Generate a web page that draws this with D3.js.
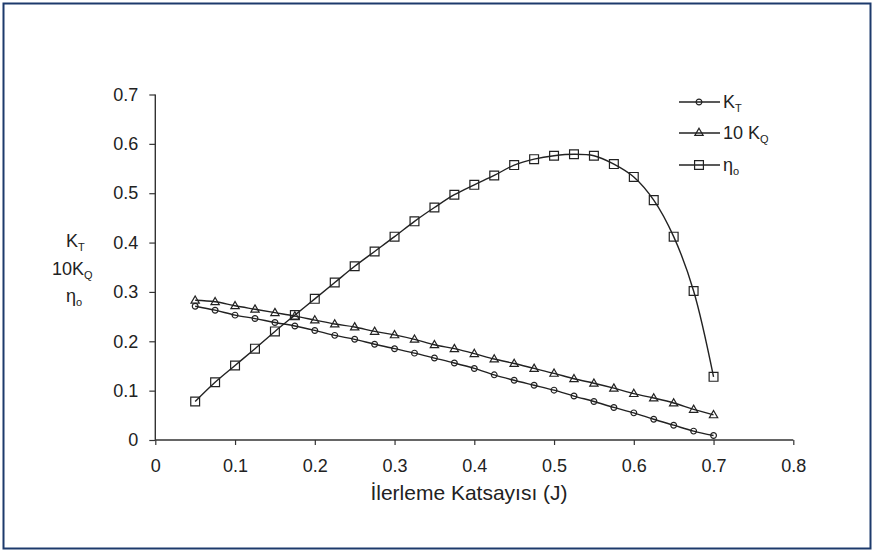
<!DOCTYPE html>
<html>
<head>
<meta charset="utf-8">
<script src="https://cdn.jsdelivr.net/npm/d3@7/dist/d3.min.js"></script>
<style>
  html, body { margin: 0; padding: 0; background: #fff; }
  svg { display: block; }
  text { font-family: "Liberation Sans", Arial, sans-serif; fill: #222; }
</style>
</head>
<body>
<svg id="chart" width="874" height="552"></svg>
<script>
// ---- data ----
const J = [0.05, 0.075, 0.1, 0.125, 0.15, 0.175, 0.2, 0.225, 0.25, 0.275, 0.3, 0.325, 0.35,
           0.375, 0.4, 0.425, 0.45, 0.475, 0.5, 0.525, 0.55, 0.575, 0.6, 0.625, 0.65, 0.675, 0.7];
const KT = [0.271, 0.263, 0.253, 0.246, 0.238, 0.231, 0.222, 0.212, 0.204, 0.194, 0.185, 0.176, 0.166,
            0.156, 0.145, 0.132, 0.121, 0.111, 0.101, 0.089, 0.078, 0.066, 0.055, 0.042, 0.030, 0.018, 0.009];
const KQ10 = [0.283, 0.280, 0.272, 0.265, 0.258, 0.251, 0.243, 0.235, 0.229, 0.220, 0.213, 0.204, 0.193,
              0.185, 0.175, 0.164, 0.155, 0.145, 0.135, 0.124, 0.115, 0.105, 0.094, 0.085, 0.075, 0.062, 0.051];
const ETA0 = [0.078, 0.117, 0.151, 0.185, 0.220, 0.253, 0.286, 0.319, 0.352, 0.382, 0.412, 0.443, 0.471,
              0.497, 0.517, 0.536, 0.557, 0.569, 0.576, 0.579, 0.576, 0.559, 0.533, 0.486, 0.412, 0.302, 0.128];
const xTicks = [0, 0.1, 0.2, 0.3, 0.4, 0.5, 0.6, 0.7, 0.8];
const yTicks = [0, 0.1, 0.2, 0.3, 0.4, 0.5, 0.6, 0.7];
const xTitle = "İlerleme Katsayısı (J)";

const svg = d3.select("#chart");
const FONT = '"Liberation Sans", Arial, sans-serif';

// frame
svg.append("rect").attr("x", 3.5).attr("y", 3.5).attr("width", 867).attr("height", 545)
  .attr("fill", "#fff").attr("stroke", "#1d3a6c").attr("stroke-width", 2);

const x = d3.scaleLinear().domain([0, 0.8]).range([155.3, 793.3]);
const y = d3.scaleLinear().domain([0, 0.7]).range([440, 94.5]);

// axes
const fmt = d => d === 0 ? "0" : d3.format(".1f")(d);
const xAxis = svg.append("g").attr("transform", `translate(0,${y(0)})`)
  .call(d3.axisBottom(x).tickValues(xTicks).tickFormat(fmt).tickSize(5).tickPadding(14));
const yAxis = svg.append("g").attr("transform", `translate(${x(0)},0)`)
  .call(d3.axisLeft(y).tickValues(yTicks).tickFormat(fmt).tickSize(6).tickPadding(11));
[xAxis, yAxis].forEach(g => {
  g.select(".domain").attr("stroke", "#333").attr("stroke-width", 1.4);
  g.selectAll(".tick line").attr("stroke", "#333").attr("stroke-width", 1.2);
  g.selectAll(".tick text").attr("font-size", 18).attr("fill", "#222").attr("font-family", FONT);
});
xAxis.select(".domain").attr("d", `M${x(0)},0H${x(0.8)}`);
yAxis.select(".domain").attr("d", `M0,${y(0)}V${y(0.7)}`);

// x title
svg.append("text").attr("x", 469).attr("y", 500).attr("text-anchor", "middle")
  .attr("font-size", 21).text(xTitle);

// y title (three stacked labels with subscripts)
function subLabel(parent, px, py, main, sub, fs) {
  fs = fs || 18;
  const t = parent.append("text").attr("x", px).attr("y", py).attr("font-size", fs);
  t.append("tspan").text(main);
  t.append("tspan").attr("dy", 4).attr("font-size", Math.round(fs * 0.62)).text(sub);
  return t;
}
subLabel(svg, 66, 247, "K", "T");
subLabel(svg, 52, 275, "10K", "Q");
subLabel(svg, 66, 302, "η", "o");

// lines
const ser = [
  {name: "KT", vals: KT, marker: "circle"},
  {name: "KQ", vals: KQ10, marker: "triangle"},
  {name: "eta", vals: ETA0, marker: "square"}
];
const line = d3.line().x(d => x(d[0])).y(d => y(d[1])).curve(d3.curveCatmullRom.alpha(0.5));

const symCircle = d3.symbol().type(d3.symbolCircle).size(26);
const symTri = d3.symbol().type(d3.symbolTriangle).size(30);
const symSq = d3.symbol().type(d3.symbolSquare).size(78);
const symFor = m => m === "circle" ? symCircle() : m === "triangle" ? symTri() : symSq();

ser.forEach(s => {
  const pts = J.map((j, i) => [j, s.vals[i]]);
  svg.append("path").datum(pts).attr("d", line).attr("fill", "none")
    .attr("stroke", "#222").attr("stroke-width", 1.4);
  svg.append("g").selectAll("path").data(pts).join("path")
    .attr("transform", d => `translate(${x(d[0])},${y(d[1]) + (s.marker === "triangle" ? 0.5 : 0)})`)
    .attr("d", symFor(s.marker))
    .attr("fill", "none").attr("stroke", "#222").attr("stroke-width", 1.2);
});

// legend
const legRows = [
  {marker: "circle", main: "K", sub: "T", ly: 102},
  {marker: "triangle", main: "10 K", sub: "Q", ly: 133},
  {marker: "square", main: "η", sub: "o", ly: 165}
];
legRows.forEach(r => {
  svg.append("line").attr("x1", 679).attr("x2", 720).attr("y1", r.ly).attr("y2", r.ly)
    .attr("stroke", "#222").attr("stroke-width", 1.4);
  svg.append("path").attr("transform", `translate(699,${r.ly})`).attr("d", symFor(r.marker))
    .attr("fill", "none").attr("stroke", "#222").attr("stroke-width", 1.2);
  subLabel(svg, 723, r.ly + 6, r.main, r.sub);
});
</script>
</body>
</html>
